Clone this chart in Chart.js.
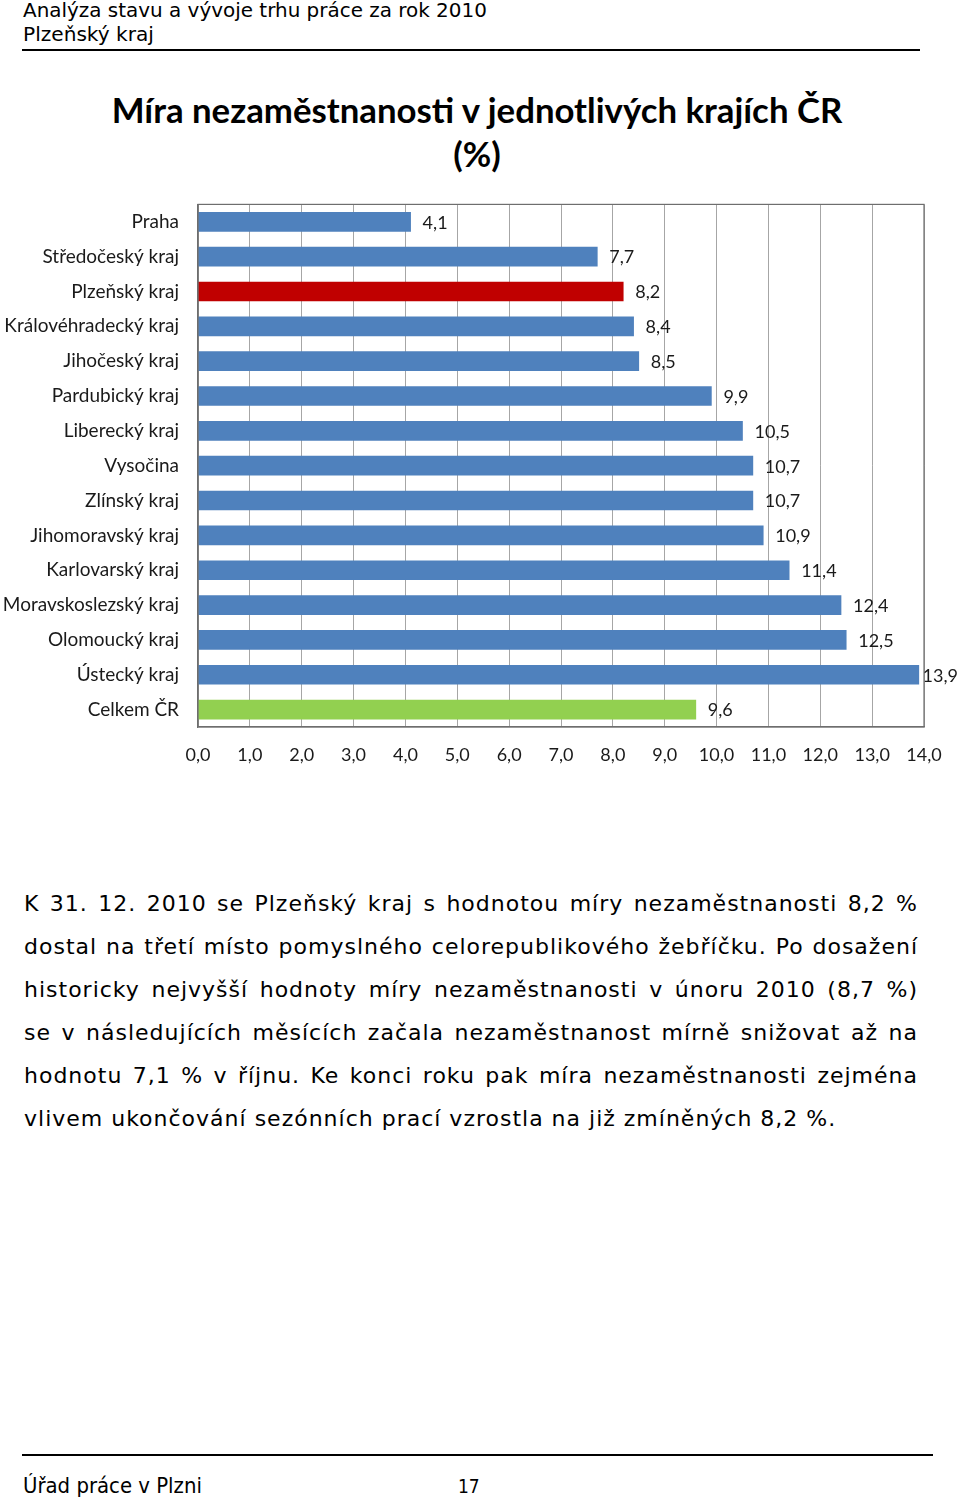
<!DOCTYPE html>
<html lang="cs">
<head>
<meta charset="utf-8">
<script src="https://cdn.jsdelivr.net/npm/chart.js@4.4.1/dist/chart.umd.min.js"></script>
<style>
  html, body { margin:0; padding:0; background:#fff; }
  body { width:960px; height:1499px; position:relative; overflow:hidden; font-family:"DejaVu Sans", Verdana, sans-serif; color:#000; }
  .abs { position:absolute; white-space:nowrap; }
  #hdr1 { left:23px; top:-2px; font-size:18.5px; line-height:24px; }
  #hdr2 { left:23px; top:22px; font-size:18.5px; line-height:24px; }
  #hline { left:22px; top:49px; width:898px; height:2px; background:#000; }
  #title { left:-3px; width:960px; top:88px; text-align:center; font-family:Lato, "Open Sans", sans-serif; font-weight:bold; font-size:34px; line-height:44px; color:#000; white-space:normal; }
  #chartBox { position:absolute; left:0; top:174px; width:960px; height:606px; }
  .pl { position:absolute; left:24px; width:894px; font-size:22px; letter-spacing:1px; line-height:43px; white-space:nowrap; }
  .just { text-align:justify; text-align-last:justify; }
  #fline { left:22px; top:1454px; width:911px; height:2px; background:#000; }
  #f1 { left:23px; top:1474px; font-family:"DejaVu Sans Condensed", "DejaVu Sans", sans-serif; font-stretch:condensed; font-size:19px; line-height:24px; }
  #f2 { left:458px; top:1474px; font-family:"DejaVu Sans Condensed", "DejaVu Sans", sans-serif; font-stretch:condensed; font-size:19px; line-height:24px; }
</style>
</head>
<body>
<div class="abs" id="hdr1">Analýza stavu a vývoje trhu práce za rok 2010</div>
<div class="abs" id="hdr2">Plzeňský kraj</div>
<div class="abs" id="hline"></div>

<div class="abs" id="title">Míra nezaměstnanosti v jednotlivých krajích ČR<br>(%)</div>

<div id="chartBox"><canvas id="c" width="960" height="606"></canvas></div>

<div class="pl just" style="top:882px">K 31. 12. 2010 se Plzeňský kraj s hodnotou míry nezaměstnanosti 8,2 %</div>
<div class="pl just" style="top:925px">dostal na třetí místo pomyslného celorepublikového žebříčku. Po dosažení</div>
<div class="pl just" style="top:968px">historicky nejvyšší hodnoty míry nezaměstnanosti v únoru 2010 (8,7 %)</div>
<div class="pl just" style="top:1011px">se v následujících měsících začala nezaměstnanost mírně snižovat až na</div>
<div class="pl just" style="top:1054px">hodnotu 7,1 % v říjnu. Ke konci roku pak míra nezaměstnanosti zejména</div>
<div class="pl" style="top:1097px">vlivem ukončování sezónních prací vzrostla na již zmíněných 8,2 %.</div>

<div class="abs" id="fline"></div>
<div class="abs" id="f1">Úřad práce v Plzni</div>
<div class="abs" id="f2">17</div>

<script>
// ---- data ----
const categories = [
  "Praha", "Středočeský kraj", "Plzeňský kraj", "Královéhradecký kraj",
  "Jihočeský kraj", "Pardubický kraj", "Liberecký kraj", "Vysočina",
  "Zlínský kraj", "Jihomoravský kraj", "Karlovarský kraj",
  "Moravskoslezský kraj", "Olomoucký kraj", "Ústecký kraj", "Celkem ČR"
];
const rates = [4.1, 7.7, 8.2, 8.4, 8.5, 9.9, 10.5, 10.7, 10.7, 10.9, 11.4, 12.4, 12.5, 13.9, 9.6];
const highlightRegion = "Plzeňský kraj";
const totalLabel = "Celkem ČR";
const axisMin = 0, axisMax = 14, axisStep = 1;

// ---- styles ----
const BLUE = "#4F81BD", RED = "#C00000", GREEN = "#92D050";
const barColors = categories.map(c => c === highlightRegion ? RED : (c === totalLabel ? GREEN : BLUE));
const fmt = v => Number(v).toFixed(1).replace(".", ",");
const LABEL_FONT = "Lato, 'Open Sans', sans-serif";

// fit header widths
function fitWidth(id, target) {
  const el = document.getElementById(id);
  const fs = parseFloat(getComputedStyle(el).fontSize);
  const w = el.getBoundingClientRect().width;
  el.style.fontSize = (fs * target / w) + "px";
}
fitWidth("hdr1", 464);
fitWidth("hdr2", 131);
fitWidth("f1", 179);
(function(){
  const t = document.getElementById("title");
  const span = document.createElement("span");
  span.textContent = "Míra nezaměstnanosti v jednotlivých krajích ČR";
  span.style.cssText = "position:absolute;visibility:hidden;white-space:nowrap;font:bold 34px Lato, 'Open Sans', sans-serif;";
  document.body.appendChild(span);
  const w = span.getBoundingClientRect().width;
  t.style.fontSize = (34 * 731 / w) + "px";
  span.remove();
})();

const borderPlugin = {
  id: "plotBorder",
  afterDraw(chart) {
    const a = chart.chartArea, ctx = chart.ctx;
    ctx.save();
    ctx.strokeStyle = "#6e6e6e";
    ctx.lineWidth = 1.2;
    ctx.strokeRect(a.left, a.top, a.right - a.left, a.bottom - a.top);
    ctx.restore();
  }
};

const labelPlugin = {
  id: "valueLabels",
  afterDatasetsDraw(chart) {
    const ctx = chart.ctx;
    const meta = chart.getDatasetMeta(0);
    ctx.save();
    ctx.font = "18px " + LABEL_FONT;
    ctx.fillStyle = "#1a1a1a";
    ctx.textBaseline = "middle";
    ctx.textAlign = "left";
    meta.data.forEach((el, i) => {
      const txt = fmt(chart.data.datasets[0].data[i]);
      const w = ctx.measureText(txt).width;
      let x = el.x + 12;
      if (x + w > chart.width - 2) x = chart.width - 2 - w;
      ctx.fillText(txt, x, el.y + 1);
    });
    ctx.restore();
  }
};

new Chart(document.getElementById("c"), {
  type: "bar",
  data: {
    labels: categories,
    datasets: [{
      data: rates,
      backgroundColor: barColors,
      borderWidth: 0,
      barThickness: 19
    }]
  },
  options: {
    indexAxis: "y",
    responsive: false,
    animation: false,
    devicePixelRatio: 1,
    layout: { padding: { top: 13, right: 36, left: 0, bottom: 0 } },
    plugins: { legend: { display: false }, tooltip: { enabled: false }, title: { display: false } },
    scales: {
      x: {
        min: axisMin, max: axisMax,
        ticks: {
          stepSize: axisStep,
          callback: v => fmt(v),
          color: "#1a1a1a",
          font: { family: LABEL_FONT, size: 18 },
          padding: 17,
          maxRotation: 0, autoSkip: false
        },
        grid: { color: "#a6a6a6", lineWidth: 1, drawTicks: false },
        border: { display: true, color: "#6e6e6e", width: 1.2 },
        afterFit(s) { s.height = 53; }
      },
      y: {
        ticks: {
          color: "#1a1a1a",
          font: { family: LABEL_FONT, size: 19 },
          padding: 19,
          autoSkip: false
        },
        grid: { display: false, drawTicks: false },
        border: { display: true, color: "#6e6e6e", width: 1.2 },
        afterFit(s) { s.width = 198; }
      }
    }
  },
  plugins: [borderPlugin, labelPlugin]
});
</script>
</body>
</html>
